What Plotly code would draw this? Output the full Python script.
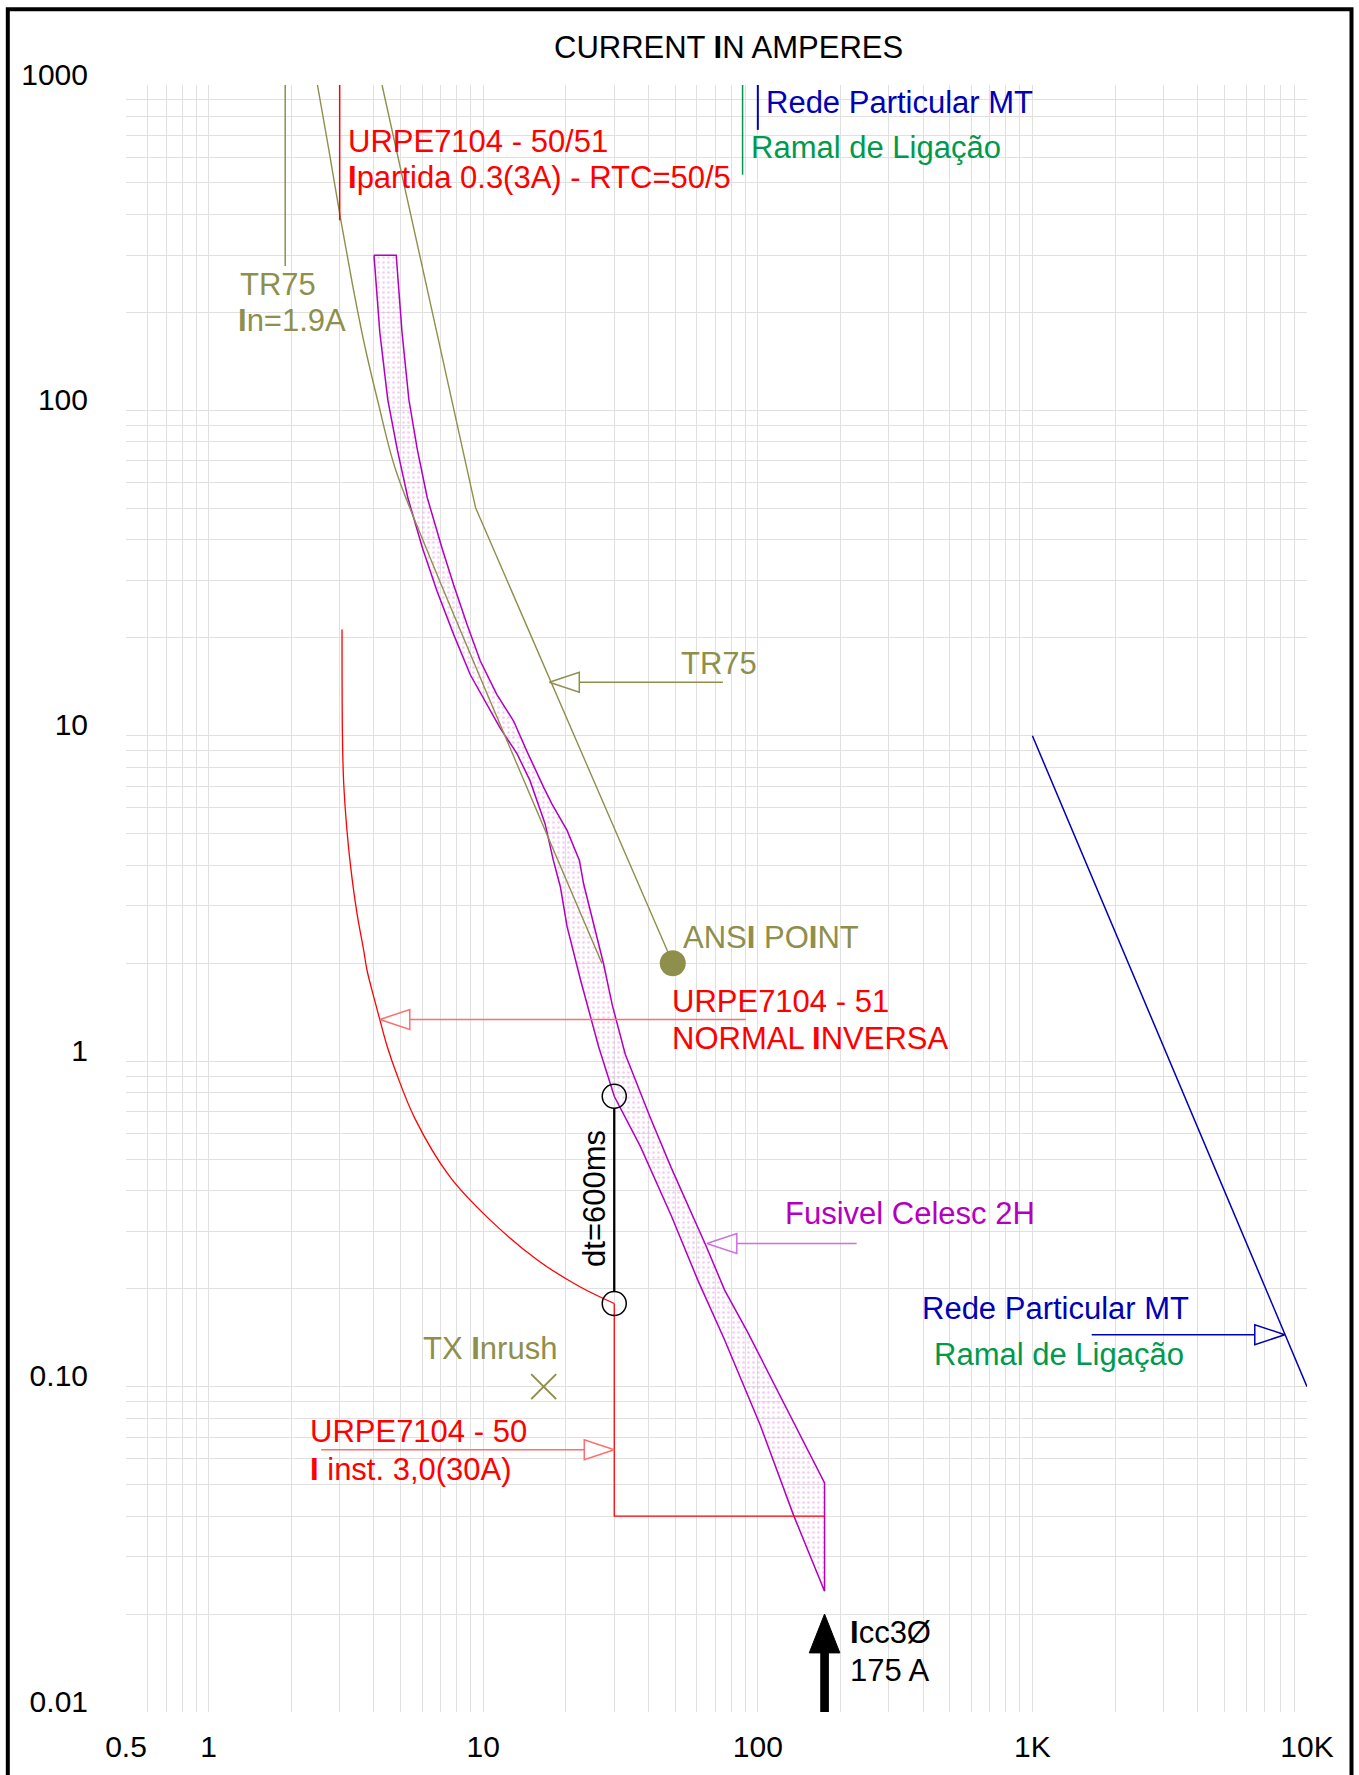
import math
import plotly.graph_objects as go

# ---------------------------------------------------------------- data
# Fuse link 2H (Celesc): minimum melting edge and total clearing edge
fuse_melt_a = [4.0, 4.2, 4.49, 4.86, 5.31, 6.01, 6.79, 7.80, 8.97, 10.0, 11.5,
               13.3, 14.8, 16.8, 18.0, 19.1, 20.2, 22.6, 26.3, 30.0, 37.3, 48.4,
               60.5, 75.7, 102, 135, 175]
fuse_melt_s = [300, 174, 108, 76, 54, 37.7, 27.8, 20.5, 15.4, 13.1, 10.6,
               8.78, 7.28, 5.36, 4.14, 3.43, 2.59, 1.78, 1.11, 0.78, 0.548,
               0.335, 0.212, 0.139, 0.0762, 0.0402, 0.0235]
fuse_clear_a = [4.82, 5.06, 5.36, 5.75, 6.25, 7.08, 7.80, 8.73, 9.75, 11.2,
                12.9, 14.4, 16.6, 17.8, 20.2, 22.4, 23.2, 27.4, 29.5, 32.9,
                40.6, 48.4, 64.5, 75.7, 91.8, 127, 175]
fuse_clear_s = [300, 174, 108, 76, 54, 37.7, 29.1, 22.0, 17.0, 13.4, 11.1,
                8.99, 6.94, 6.17, 5.12, 4.14, 3.51, 2.0, 1.49, 1.05, 0.67,
                0.470, 0.273, 0.198, 0.147, 0.0857, 0.0506]

# Relay URPE7104 - 51, normal inverse curve
relay51_a = [3.06, 3.07, 3.10, 3.19, 3.28, 3.47, 3.67, 3.77, 3.99, 4.20, 4.47,
             4.82, 5.64, 7.52, 10.4, 15.7, 22.4, 30.0]
relay51_s = [21.2, 10.1, 7.28, 5.11, 4.04, 2.84, 2.19, 1.91, 1.58, 1.343, 1.11,
             0.921, 0.666, 0.444, 0.330, 0.2455, 0.203, 0.18]

PICKUP_A = 3.0          # Ipartida 0.3 x RTC 50/5
PICKUP_TOP_S = [1000, 384]
INST_A = 30.0           # I inst. 3,0 x RTC
INST_S = 0.04
RELAY_AT_INST_S = 0.18
DT_S = 0.6              # coordination interval
ICC_A = 175.0
ICC_TIP_S = 0.02

# Transformer TR75
TR_IN_A = 1.9
TR_IN_S = [1000, 278]
tr_damage_a = [2.49, 2.74, 3.03, 3.34, 3.69, 4.15, 4.78, 6.2, 27.05]
tr_damage_s = [1000, 632, 384, 244, 160, 105, 66.3, 37.7, 2.0]
tr_curve_a = [4.28, 9.38, 49.0]
tr_curve_s = [1000, 50.2, 2.0]
ANSI_A, ANSI_S = 49.0, 2.0
INRUSH_A, INRUSH_S = 16.6, 0.1

# Rede Particular MT / Ramal de Ligacao
rede_a = [1000, 10000]
rede_s = [10, 0.1]
rede_top_a = [100, 100]
rede_top_s = [1000, 728]
ramal_a = [88, 88]
ramal_s = [1000, 530]

# axis ticks
x_tickvals = [0.5, 1, 10, 100, 1000, 10000]
x_ticktext = ["0.5", "1", "10", "100", "1K", "10K"]
y_tickvals = [0.01, 0.1, 1, 10, 100, 1000]
y_ticktext = ["0.01", "0.10", "1", "10", "100", "1000"]

# ---------------------------------------------------------------- layout
W, H = 1359, 1775
MARGIN = dict(l=126, r=52, t=85, b=57)
PLOT_W = W - MARGIN["l"] - MARGIN["r"]
PLOT_H = H - MARGIN["t"] - MARGIN["b"]
X_RANGE = [math.log10(0.5), 4.0]
Y_RANGE = [-2.0, 3.0]
DPX = (X_RANGE[1] - X_RANGE[0]) / PLOT_W   # decades per pixel
DPY = (Y_RANGE[1] - Y_RANGE[0]) / PLOT_H

FONT = "Liberation Sans, Arial, sans-serif"
RED = "#ff0000"
RED_LEADER = "#ff6e6e"
OLIVE = "#8f8f4c"
MAGENTA = "#b000c0"
MAGENTA_TXT = "#b400be"
MAGENTA_LEADER = "#cf6ee0"
BLUE = "#0000b4"
GREEN = "#00994d"
BLACK = "#000000"
GRID = "#e0e0e0"


def shift(v, px, dec_per_px):
    """Move a value on a log axis by a number of screen pixels."""
    return v * 10 ** (px * dec_per_px)


def px_x(px):
    return (px - MARGIN["l"]) / PLOT_W


def px_y(py):
    return (H - MARGIN["b"] - py) / PLOT_H


fig = go.Figure()


def line(xs, ys, color, width=1.5, shape="linear", **kw):
    fig.add_trace(go.Scatter(x=xs, y=ys, mode="lines",
                             line=dict(color=color, width=width, shape=shape),
                             hoverinfo="skip", showlegend=False, **kw))


def leader(tip_a, tip_s, tail_a, color, head_len=30, head_half=10, width=1.5):
    direction = 1 if tail_a > tip_a else -1
    base_a = shift(tip_a, direction * head_len, DPX)
    up = shift(tip_s, head_half, DPY)
    dn = shift(tip_s, -head_half, DPY)
    line([tail_a, base_a], [tip_s, tip_s], color, width)
    line([tip_a, base_a, base_a, tip_a], [tip_s, up, dn, tip_s], color, width)


# fuse band with dotted fill
fig.add_trace(go.Scatter(
    x=fuse_melt_a + fuse_clear_a[::-1] + [fuse_melt_a[0]],
    y=fuse_melt_s + fuse_clear_s[::-1] + [fuse_melt_s[0]],
    mode="lines", fill="toself", fillcolor="rgba(255,255,255,0)",
    fillpattern=dict(shape=".", fgcolor="#ea9cea", bgcolor="rgba(255,255,255,0)",
                     size=5, solidity=0.22),
    line=dict(color=MAGENTA, width=1.5), hoverinfo="skip", showlegend=False))

# transformer curves
line([TR_IN_A, TR_IN_A], TR_IN_S, OLIVE, 1.5)
line(tr_damage_a, tr_damage_s, OLIVE, 1.4, shape="spline")
line(tr_curve_a, tr_curve_s, OLIVE, 1.4)

# relay 50/51
line([PICKUP_A, PICKUP_A], PICKUP_TOP_S, RED, 1.5)
line(relay51_a, relay51_s, RED, 1.3, shape="spline")
line([INST_A, INST_A, ICC_A], [RELAY_AT_INST_S, INST_S, INST_S], RED, 1.3)

# network side
line(rede_top_a, rede_top_s, BLUE, 2)
line(ramal_a, ramal_s, GREEN, 1.5)
line(rede_a, rede_s, BLUE, 1.5)

# coordination interval between relay and fuse
upper_s = RELAY_AT_INST_S + DT_S
r_circ = 12
line([INST_A, INST_A], [shift(upper_s, -r_circ, DPY), shift(RELAY_AT_INST_S, r_circ, DPY)],
     BLACK, 2.3)
fig.add_trace(go.Scatter(x=[INST_A, INST_A], y=[upper_s, RELAY_AT_INST_S], mode="markers",
                         marker=dict(symbol="circle-open", size=2 * r_circ, color=BLACK,
                                     line=dict(width=1.5, color=BLACK)),
                         hoverinfo="skip", showlegend=False))

# ANSI point and inrush point
fig.add_trace(go.Scatter(x=[ANSI_A], y=[ANSI_S], mode="markers",
                         marker=dict(symbol="circle", size=26, color=OLIVE,
                                     line=dict(width=0)),
                         hoverinfo="skip", showlegend=False))
fig.add_trace(go.Scatter(x=[INRUSH_A], y=[INRUSH_S], mode="markers",
                         marker=dict(symbol="x-thin", size=25, color=OLIVE,
                                     line=dict(width=2, color=OLIVE)),
                         hoverinfo="skip", showlegend=False))

# short-circuit current arrow
head_base = shift(ICC_TIP_S, -39, DPY)
line([ICC_A, ICC_A], [10 ** Y_RANGE[0], head_base], BLACK, 8.7)
fig.add_trace(go.Scatter(
    x=[shift(ICC_A, -15.3, DPX), shift(ICC_A, 15.3, DPX), ICC_A, shift(ICC_A, -15.3, DPX)],
    y=[head_base, head_base, ICC_TIP_S, head_base],
    mode="lines", fill="toself", fillcolor=BLACK, line=dict(color=BLACK, width=1),
    hoverinfo="skip", showlegend=False))

# leader arrows
leader(17.4, 14.6, 74.6, OLIVE)
leader(4.20, 1.343, 90.4, RED_LEADER)
leader(INST_A, 0.064, 2.57, RED_LEADER)
leader(65.2, 0.2754, 229, MAGENTA_LEADER)
leader(8300, 0.1444, 1644, BLUE)

# ---------------------------------------------------------------- labels
def label(text, x_px, y_px, color, anchor="left", angle=0, size=31):
    return dict(text=text, x=px_x(x_px), y=px_y(y_px), xref="paper", yref="paper",
                xanchor=anchor, yanchor="middle", showarrow=False, textangle=angle,
                font=dict(family=FONT, size=size, color=color))


annotations = [
    label("CURRENT <b>I</b>N AMPERES", 728, 47, BLACK, anchor="center"),
    label("URPE7104 - 50/51", 346, 141.5, RED),
    label(f"<b>I</b>partida 0.3({PICKUP_A:g}A) - RTC=50/5", 346, 178, RED),
    label("Rede Particular MT", 764, 103, BLUE),
    label("Ramal de Ligação", 749, 148, GREEN),
    label("TR75", 238, 285, OLIVE),
    label(f"<b>I</b>n={TR_IN_A:g}A", 236, 321.5, OLIVE),
    label("TR75", 679, 666, OLIVE),
    label("ANS<b>I</b> PO<b>I</b>NT", 681, 941, OLIVE),
    label("URPE7104 - 51", 670, 1004.5, RED),
    label("NORMAL <b>I</b>NVERSA", 670, 1042, RED),
    label("Fusivel Celesc 2H", 783, 1217.5, MAGENTA_TXT),
    label("Rede Particular MT", 920, 1313.5, BLUE),
    label("Ramal de Ligação", 932, 1359, GREEN),
    label("TX <b>I</b>nrush", 559, 1352.7, OLIVE, anchor="right"),
    label("URPE7104 - 50", 308, 1436.5, RED),
    label(f"<b>I</b> inst. 3,0({INST_A:g}A)", 308, 1474.5, RED),
    label("<b>I</b>cc3Ø", 848, 1638, BLACK),
    label(f"{ICC_A:g} A", 848, 1676, BLACK),
    label(f"dt={DT_S * 1000:g}ms", 595, 1203, BLACK, anchor="center", angle=-90),
]

minor_x = [m * 10 ** e for e in range(-1, 4) for m in range(2, 10) if 0.5 < m * 10 ** e < 10000]
minor_y = [m * 10 ** e for e in range(-2, 3) for m in range(2, 10)]

axis_font = dict(family=FONT, size=30, color=BLACK)
fig.update_layout(
    width=W, height=H, margin=MARGIN,
    paper_bgcolor="white", plot_bgcolor="white",
    showlegend=False,
    annotations=annotations,
    shapes=[dict(type="rect", xref="paper", yref="paper",
                 x0=px_x(7.8), x1=px_x(1351.5), y0=px_y(1795), y1=px_y(9),
                 line=dict(color=BLACK, width=4), layer="above")],
    xaxis=dict(type="log", range=X_RANGE, tickvals=x_tickvals, ticktext=x_ticktext,
               showgrid=True, gridcolor=GRID, gridwidth=1.3, zeroline=False,
               showline=False, ticks="", tickfont=axis_font, ticklabelstandoff=14,
               minor=dict(tickvals=minor_x, showgrid=True, gridcolor=GRID,
                          gridwidth=1.3, ticks="")),
    yaxis=dict(type="log", range=Y_RANGE, tickvals=y_tickvals, ticktext=y_ticktext,
               showgrid=True, gridcolor=GRID, gridwidth=1.3, zeroline=False,
               showline=False, ticks="", tickfont=axis_font, ticklabelstandoff=37,
               ticklabelshift=-11,
               minor=dict(tickvals=minor_y, showgrid=True, gridcolor=GRID,
                          gridwidth=1.3, ticks="")),
)

fig.write_html("out.html")
